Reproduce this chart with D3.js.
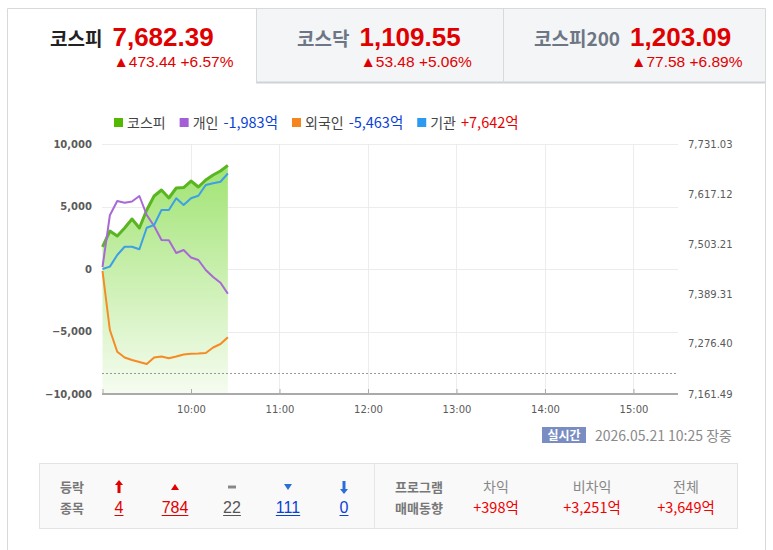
<!DOCTYPE html>
<html>
<head>
<meta charset="utf-8">
<script src="https://cdn.jsdelivr.net/npm/d3@7"></script>
<style>
  html, body { margin: 0; padding: 0; background: #fff; }
  svg { display: block; }
  .kr { font-family: "Noto Sans CJK KR", "Noto Sans", sans-serif; }
  .num { font-family: "Liberation Sans", Arial, sans-serif; }
  .ax { font-family: "DejaVu Sans", sans-serif; font-size: 10px; fill: #5a5a5a; }
</style>
</head>
<body>
<svg id="chart" width="773" height="550"></svg>
<script>
// index tabs
const tabNames = ['코스피', '코스닥', '코스피200']
const tabValues = ['7,682.39', '1,109.55', '1,203.09']
const tabChanges = ['▲473.44 +6.57%', '▲53.48 +5.06%', '▲77.58 +6.89%']

// intraday series (5 min)
const times = ['09:00', '09:05', '09:10', '09:15', '09:20', '09:25', '09:30', '09:35', '09:40',
  '09:45', '09:50', '09:55', '10:00', '10:05', '10:10', '10:15', '10:20', '10:25']
const kospi = [7496.4, 7532.8, 7521.4, 7539.7, 7560.2, 7539.7, 7580.7, 7612.5, 7626.2,
  7608.0, 7630.8, 7631.9, 7646.7, 7633.0, 7649.0, 7660.4, 7669.5, 7682.39]
const individual = [160, 4300, 5440, 5300, 5400, 5840, 4320, 3440, 2320,
  2300, 1280, 1520, 920, 720, -80, -640, -1100, -1983]
const foreign = [-160, -4880, -6620, -7080, -7280, -7440, -7600, -7080, -7000,
  -7140, -7000, -6840, -6780, -6760, -6720, -6280, -6000, -5463]
const institution = [0, 190, 1120, 1780, 1780, 1580, 3300, 3520, 4720,
  4720, 5660, 5120, 5660, 5860, 6720, 6860, 6980, 7642]
const prevClose = 7208.95

const leftTicks = [-10000, -5000, 0, 5000, 10000]
const rightTicks = [7161.49, 7276.40, 7389.31, 7503.21, 7617.12, 7731.03]
const hourTicks = ['09:00', '10:00', '11:00', '12:00', '13:00', '14:00', '15:00']

const legendNames = ['코스피', '개인', '외국인', '기관']
const legendValues = ['', '-1,983억', '-5,463억', '+7,642억']

const riseFallLabels = ['4', '784', '22', '111', '0']
const programNames = ['차익', '비차익', '전체']
const programValues = ['+398억', '+3,251억', '+3,649억']

const svg = d3.select('#chart')
const parse = d3.timeParse('%H:%M')

// ---- tabs ----
svg.append('rect').attr('x', 256.5).attr('y', 8.5).attr('width', 509).attr('height', 74)
  .attr('fill', '#f4f5f7')
svg.append('line').attr('x1', 256).attr('x2', 766).attr('y1', 82.5).attr('y2', 82.5)
  .attr('stroke', '#cfd2d6').attr('stroke-width', 2)
svg.append('path')
  .attr('d', 'M7.5,550V8.5H765.5V550')
  .attr('fill', 'none').attr('stroke', '#d7dadd')
svg.selectAll('.tabsep').data([256.5, 503.5]).enter().append('line')
  .attr('x1', d => d).attr('x2', d => d).attr('y1', 8).attr('y2', 83)
  .attr('stroke', '#d7dadd')

const tabX = [50, 297, 534]
const tabG = svg.selectAll('.tab').data(tabNames).enter().append('g')
tabG.append('text').attr('class', 'kr')
  .attr('x', (d, i) => tabX[i]).attr('y', 46)
  .attr('font-size', 19).attr('font-weight', 'bold')
  .attr('fill', (d, i) => i === 0 ? '#222' : '#6d7684')
  .text(d => d)
  .each(function (d, i) {
    const w = this.getComputedTextLength()
    d3.select(this.parentNode).append('text').attr('class', 'num')
      .attr('x', tabX[i] + w + 10).attr('y', 46)
      .attr('font-size', 26).attr('font-weight', 'bold').attr('fill', '#e00000')
      .text(tabValues[i])
    d3.select(this.parentNode).append('text').attr('class', 'num')
      .attr('x', tabX[i] + w + 11).attr('y', 67)
      .attr('font-size', 15.5).attr('fill', '#e00000')
      .text(tabChanges[i])
  })

// ---- chart ----
const x = d3.scaleTime().domain([parse('09:00'), parse('15:30')]).range([102.5, 677.7])
const yL = d3.scaleLinear().domain([-10000, 10000]).range([394, 144])
const yR = d3.scaleLinear().domain([7161.49, 7731.03]).range([394, 144])

const grid = svg.append('g')
grid.selectAll('.hg').data(leftTicks.slice(1)).enter().append('line')
  .attr('x1', 102).attr('x2', 678).attr('y1', d => Math.round(yL(d)) + 0.5).attr('y2', d => Math.round(yL(d)) + 0.5)
  .attr('stroke', '#ececec')
grid.selectAll('.vg').data(hourTicks.slice(1)).enter().append('line')
  .attr('x1', d => Math.round(x(parse(d))) + 0.5).attr('x2', d => Math.round(x(parse(d))) + 0.5)
  .attr('y1', 144).attr('y2', 394)
  .attr('stroke', '#ececec')

const defs = svg.append('defs')
const grad = defs.append('linearGradient').attr('id', 'kfill')
  .attr('gradientUnits', 'userSpaceOnUse').attr('x1', 0).attr('x2', 0).attr('y1', 150).attr('y2', 394)
grad.append('stop').attr('offset', 0).attr('stop-color', '#9be26a')
grad.append('stop').attr('offset', 1).attr('stop-color', '#f6fcf1')

const rows = times.map((t, i) => ({
  t: parse(t), k: kospi[i], p: individual[i], f: foreign[i], n: institution[i]
}))

svg.append('path').datum(rows)
  .attr('fill', 'url(#kfill)')
  .attr('d', d3.area().x(d => x(d.t)).y0(394).y1(d => yR(d.k)))

// previous close
svg.append('line')
  .attr('x1', 102).attr('x2', 678).attr('y1', Math.round(yR(prevClose)) + 0.5).attr('y2', Math.round(yR(prevClose)) + 0.5)
  .attr('stroke', '#999').attr('stroke-dasharray', '2,2')

// bottom axis
const xAxis = svg.append('g').attr('transform', 'translate(0,394)')
  .call(d3.axisBottom(x).tickValues(hourTicks.map(parse)).tickSizeInner(-5).tickSizeOuter(0).tickFormat(d3.timeFormat('%H:%M')))
xAxis.select('.domain').attr('stroke', '#aaa').attr('stroke-width', 2).attr('d', 'M102,0H678')
xAxis.selectAll('.tick line').attr('stroke', '#aaa')
xAxis.selectAll('.tick text').attr('class', 'ax').attr('y', 12).attr('dy', '0.71em')
  .style('display', (d, i) => i === 0 ? 'none' : null)

const yAxisL = svg.append('g').attr('transform', 'translate(92,0)')
  .call(d3.axisLeft(yL).tickValues(leftTicks).tickSize(0).tickFormat(d3.format(',')))
yAxisL.select('.domain').remove()
yAxisL.selectAll('text').attr('class', 'ax').attr('x', 0).attr('font-weight', 'bold')

const yAxisR = svg.append('g').attr('transform', 'translate(688,0)')
  .call(d3.axisRight(yR).tickValues(rightTicks).tickSize(0).tickFormat(d3.format(',.2f')))
yAxisR.select('.domain').remove()
yAxisR.selectAll('text').attr('class', 'ax').attr('x', 0)

// lines
const series = [
  { key: 'k', color: '#5ab620', w: 3, y: yR },
  { key: 'p', color: '#a869d6', w: 2, y: yL },
  { key: 'f', color: '#f68a24', w: 2, y: yL },
  { key: 'n', color: '#3d9fe8', w: 2, y: yL }
]
series.forEach(s => {
  svg.append('path').datum(rows)
    .attr('fill', 'none').attr('stroke', s.color).attr('stroke-width', s.w)
    .attr('stroke-linejoin', 'round')
    .attr('d', d3.line().x(d => x(d.t)).y(d => s.y(d[s.key])))
})

// legend
const legendColors = ['#52b800', '#a45fd6', '#f5861f', '#2b9af0']
let lx = 114
legendNames.forEach((name, i) => {
  svg.append('rect').attr('x', lx).attr('y', 118).attr('width', 9).attr('height', 9).attr('fill', legendColors[i])
  const t = svg.append('text').attr('class', 'kr').attr('x', lx + 13).attr('y', 128)
    .attr('font-size', 14).attr('fill', '#444').text(name)
  let w = t.node().getComputedTextLength()
  if (legendValues[i]) {
    const v = svg.append('text').attr('class', 'kr').attr('x', lx + 13 + w + 5).attr('y', 128)
      .attr('font-size', 14.5).attr('fill', legendValues[i][0] === '-' ? '#0a3fd8' : '#e60000')
      .text(legendValues[i])
    w += 5 + v.node().getComputedTextLength()
  }
  lx += 13 + w + 14
})

// realtime stamp
svg.append('rect').attr('x', 542).attr('y', 427).attr('width', 44).attr('height', 16).attr('fill', '#7a8dc3')
svg.append('text').attr('class', 'kr').attr('x', 564).attr('y', 439.5).attr('text-anchor', 'middle')
  .attr('font-size', 12).attr('font-weight', 'bold').attr('fill', '#fff').text('실시간')
svg.append('text').attr('class', 'kr').attr('x', 595).attr('y', 440.5)
  .attr('font-size', 14).attr('fill', '#8a8a8a').text('2026.05.21 10:25 장중')

// ---- bottom summary box ----
svg.append('rect').attr('x', 39.5).attr('y', 463.5).attr('width', 698).attr('height', 65)
  .attr('fill', '#f9f9f9').attr('stroke', '#e3e3e3')
svg.append('line').attr('x1', 374.5).attr('x2', 374.5).attr('y1', 464).attr('y2', 528).attr('stroke', '#e6e6e6')

svg.append('text').attr('class', 'kr').attr('x', 60).attr('y', 492).attr('font-size', 13)
  .attr('font-weight', 'bold').attr('fill', '#777').text('등락')
svg.append('text').attr('class', 'kr').attr('x', 60).attr('y', 513).attr('font-size', 13)
  .attr('font-weight', 'bold').attr('fill', '#777').text('종목')

const rfX = [119, 175, 232, 288, 344]
const rfColors = ['#e00000', '#e00000', '#555', '#0a3fd8', '#0a3fd8']
const rfIcons = [
  'M-4,-2L0,-7L4,-2H1.5V6H-1.5V-2Z',
  'M-4,3L0,-3L4,3Z',
  'M-4,-1.5H4V1.5H-4Z',
  'M-4,-3L0,3L4,-3Z',
  'M-4,2L0,7L4,2H1.5V-6H-1.5V2Z'
]
const rfIconColors = ['#e00000', '#e00000', '#888', '#2b6fd6', '#2b6fd6']
riseFallLabels.forEach((lab, i) => {
  svg.append('path').attr('transform', `translate(${rfX[i]},487)`).attr('d', rfIcons[i]).attr('fill', rfIconColors[i])
  const t = svg.append('text').attr('class', 'num').attr('x', rfX[i]).attr('y', 513).attr('text-anchor', 'middle')
    .attr('font-size', 16).attr('fill', rfColors[i]).text(lab)
  const w = t.node().getComputedTextLength()
  svg.append('line').attr('x1', rfX[i] - w / 2).attr('x2', rfX[i] + w / 2).attr('y1', 515.5).attr('y2', 515.5)
    .attr('stroke', rfColors[i])
})

svg.append('text').attr('class', 'kr').attr('x', 395).attr('y', 492).attr('font-size', 13)
  .attr('font-weight', 'bold').attr('fill', '#777').text('프로그램')
svg.append('text').attr('class', 'kr').attr('x', 395).attr('y', 513).attr('font-size', 13)
  .attr('font-weight', 'bold').attr('fill', '#777').text('매매동향')
const pgX = [496, 592, 686]
programNames.forEach((n, i) => {
  svg.append('text').attr('class', 'kr').attr('x', pgX[i]).attr('y', 492).attr('text-anchor', 'middle')
    .attr('font-size', 14).attr('fill', '#888').text(n)
  svg.append('text').attr('class', 'kr').attr('x', pgX[i]).attr('y', 513).attr('text-anchor', 'middle')
    .attr('font-size', 14.5).attr('fill', '#f00000').text(programValues[i])
})
</script>
</body>
</html>
